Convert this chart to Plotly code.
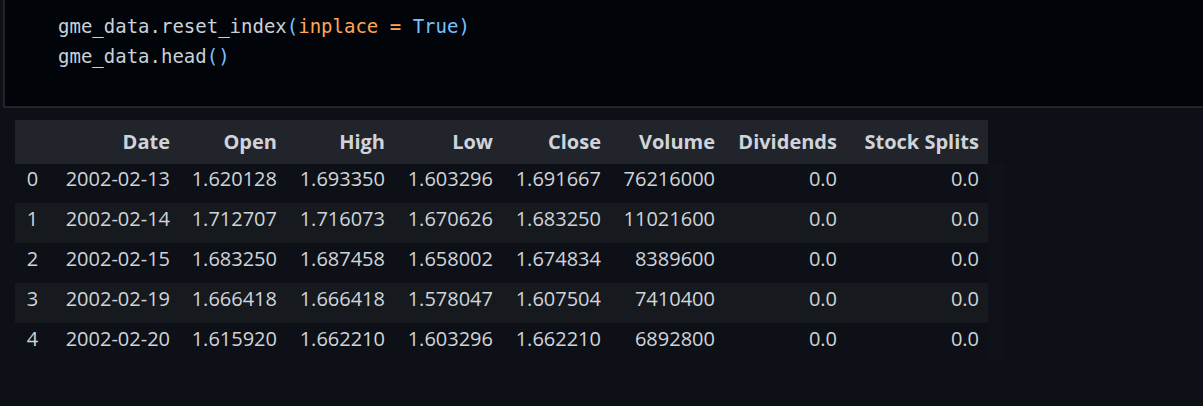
import plotly.graph_objects as go

# gme_data.head() after reset_index
index = [0, 1, 2, 3, 4]
dates = ['2002-02-13', '2002-02-14', '2002-02-15', '2002-02-19', '2002-02-20']
open_ = [1.620128, 1.712707, 1.683250, 1.666418, 1.615920]
high = [1.693350, 1.716073, 1.687458, 1.666418, 1.662210]
low = [1.603296, 1.670626, 1.658002, 1.578047, 1.603296]
close = [1.691667, 1.683250, 1.674834, 1.607504, 1.662210]
volume = [76216000, 11021600, 8389600, 7410400, 6892800]
dividends = [0.0, 0.0, 0.0, 0.0, 0.0]
splits = [0.0, 0.0, 0.0, 0.0, 0.0]

headers = ['', 'Date', 'Open', 'High', 'Low', 'Close', 'Volume', 'Dividends', 'Stock Splits']

W, H = 1203, 406
page_bg = '#0d1117'
code_bg = '#010409'
head_bg = '#21252b'
stripe = '#161a1f'
txt = '#d0d4da'

def px(x):
    return x / W

def py(y):
    return 1 - y / H

fmt6 = lambda v: ['%.6f' % a for a in v]
fmt1 = lambda v: ['%.1f' % a for a in v]

columns = [index, dates, fmt6(open_), fmt6(high), fmt6(low), fmt6(close),
           volume, fmt1(dividends), fmt1(splits)]
row_fill = [page_bg if i % 2 == 0 else stripe for i in range(len(dates))]

fig = go.Figure()
fig.add_trace(go.Table(
    domain=dict(x=[px(15), px(987)], y=[py(360), py(120)]),
    columnwidth=[35, 128, 107, 108, 108, 108, 114, 122, 142],
    header=dict(
        values=['<b>%s</b>' % h for h in headers],
        fill_color=head_bg,
        line=dict(color=head_bg, width=1),
        align=['center'] + ['right'] * 8,
        font=dict(family='Open Sans', size=20, color=txt),
        height=40,
    ),
    cells=dict(
        values=columns,
        fill_color=[row_fill] * len(headers),
        line=dict(color=[row_fill] * len(headers), width=1),
        align=['center'] + ['right'] * 8,
        font=dict(family='Open Sans', size=20, color=txt),
        height=40,
    ),
))

# code cell
fig.add_shape(type='rect', xref='paper', yref='paper',
              x0=px(4), x1=px(1210), y0=py(107), y1=py(-10),
              fillcolor=code_bg, line=dict(color='#3a3e44', width=1), layer='below')

blue = '#79c0ff'
orange = '#ffa657'
code_lines = [
    'gme_data.reset_index<span style="color:%s">(</span><span style="color:%s">inplace = </span>'
    '<span style="color:%s">True</span><span style="color:%s">)</span>' % (blue, orange, blue, blue),
    'gme_data.head<span style="color:%s">()</span>' % blue,
]
for i, line in enumerate(code_lines):
    fig.add_annotation(text=line, xref='paper', yref='paper',
                       x=px(56), y=py(27 + 29 * i), xanchor='left', yanchor='middle',
                       showarrow=False,
                       font=dict(family='DejaVu Sans Mono', size=19, color='#c9d1d9'))

fig.update_layout(
    width=W, height=H,
    margin=dict(l=0, r=0, t=0, b=0),
    paper_bgcolor=page_bg,
    plot_bgcolor=page_bg,
)

fig.write_html("out.html",
               config={'displayModeBar': False},
               post_script="document.body.style.margin='0';"
                           "document.body.style.background='%s';" % page_bg)
